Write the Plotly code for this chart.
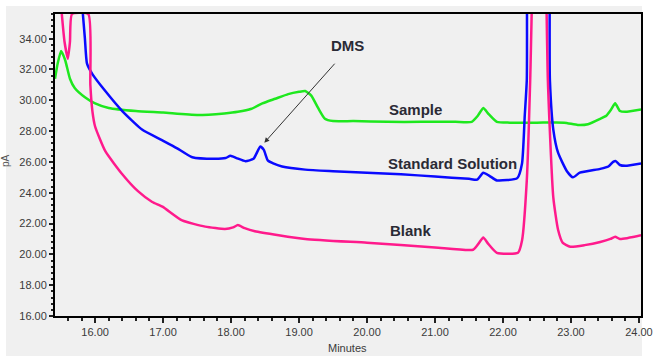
import plotly.graph_objects as go

# Sample (green)
sample_t = [15.41, 15.45, 15.50, 15.56, 15.63, 15.70, 15.85, 16.0, 16.2, 16.6, 17.0, 17.5, 17.9, 18.1,
            18.3, 18.46, 18.65, 18.84, 19.0, 19.09, 19.18, 19.28, 19.38, 19.5, 19.8, 20.3, 20.8, 21.3, 21.54,
            21.63, 21.71, 21.79, 21.91, 22.1, 22.5, 22.9, 23.1, 23.25, 23.43, 23.52, 23.59, 23.65, 23.72,
            23.8, 24.03]
sample_v = [31.4, 32.4, 33.2, 32.6, 31.4, 30.8, 30.2, 29.8, 29.5, 29.3, 29.2, 29.05, 29.15, 29.25,
            29.45, 29.8, 30.1, 30.4, 30.55, 30.6, 30.3, 29.5, 28.8, 28.65, 28.65, 28.6, 28.6, 28.6, 28.6,
            29.0, 29.5, 29.1, 28.6, 28.55, 28.55, 28.55, 28.4, 28.45, 28.8, 29.0, 29.4, 29.8, 29.3,
            29.25, 29.4]

# Standard Solution (blue)
std_t = [15.82, 15.85, 15.88, 15.96, 16.15, 16.40, 16.69, 16.99, 17.2, 17.43, 17.76, 17.92, 17.99, 18.08,
         18.21, 18.33, 18.43, 18.48, 18.54, 18.62, 18.75, 19.09, 19.5, 20.0, 20.5, 21.0, 21.5, 21.62,
         21.71, 21.8, 21.91, 22.21, 22.28, 22.32, 22.35, 22.45, 22.60, 22.69, 22.74, 22.81, 22.94, 23.03,
         23.13, 23.43, 23.55, 23.62, 23.66, 23.72, 23.8, 24.03]
std_v = [35.6, 34.0, 32.4, 31.7, 30.6, 29.3, 28.1, 27.4, 26.9, 26.3, 26.2, 26.25, 26.4, 26.25,
         26.05, 26.2, 27.0, 26.8, 26.1, 25.9, 25.7, 25.5, 25.4, 25.3, 25.2, 25.05, 24.9, 24.85,
         25.3, 25.1, 24.8, 24.95, 25.9, 29.0, 31.3, 60.0, 60.0, 31.3, 28.1, 26.6, 25.4, 25.0,
         25.3, 25.55, 25.7, 26.0, 26.05, 25.8, 25.75, 25.9]

# Blank (pink)
blank_t = [15.51, 15.55, 15.60, 15.63, 15.66, 15.90, 15.93, 15.96, 16.0, 16.15, 16.40, 16.63, 16.84, 16.99,
           17.28, 17.62, 17.91, 18.03, 18.1, 18.2, 18.35, 19.09, 20.0, 21.0, 21.56, 21.64, 21.71, 21.78,
           21.91, 22.22, 22.28, 22.35, 22.40, 22.55, 22.66, 22.74, 22.81, 22.88, 22.99, 23.2, 23.43, 23.58,
           23.65, 23.72, 24.03]
blank_v = [35.6, 33.8, 32.7, 33.8, 35.6, 35.6, 31.0, 29.3, 28.3, 26.7, 25.2, 24.1, 23.4, 23.1,
           22.2, 21.8, 21.65, 21.75, 21.9, 21.7, 21.5, 21.0, 20.75, 20.45, 20.3, 20.7, 21.1, 20.7,
           20.1, 20.1, 20.9, 24.8, 31.3, 60.0, 31.3, 23.7, 21.6, 20.75, 20.5, 20.6, 20.8, 21.0,
           21.15, 21.0, 21.25]

x_ticks = [16, 17, 18, 19, 20, 21, 22, 23, 24]
y_ticks = [16, 18, 20, 22, 24, 26, 28, 30, 32, 34]

fig = go.Figure()
for t, v, c, n in [(sample_t, sample_v, "#1ee81e", "Sample"),
                   (std_t, std_v, "#0a0aff", "Standard Solution"),
                   (blank_t, blank_v, "#ff1a8c", "Blank")]:
    fig.add_trace(go.Scatter(x=t, y=v, mode="lines", name=n,
                             line=dict(color=c, width=2.5, shape="spline", smoothing=0.5)))

L, R, T, B = 55, 17, 14, 40
W, H = 658, 356
pw, ph = W - L - R, H - T - B

fig.add_shape(type="rect", xref="paper", yref="paper",
              x0=(6 - L) / pw, x1=(642 - L) / pw, y0=-(H - T - ph) / ph - 0.01, y1=(H - 6 - B) / ph,
              fillcolor="#f0f0f0", line=dict(width=0), layer="below")

lab_font = dict(family="Liberation Sans, Arial", size=15, color="#2a2a35")
fig.add_annotation(x=18.47, y=27.15, ax=73, ay=-82, text="", showarrow=True, arrowhead=2,
                   arrowsize=1, arrowwidth=1, arrowcolor="#333333", standoff=2)
fig.add_annotation(x=19.71, y=33.55, text="<b>DMS</b>", showarrow=False, font=lab_font)
fig.add_annotation(x=20.71, y=29.38, text="<b>Sample</b>", showarrow=False, font=lab_font)
fig.add_annotation(x=21.25, y=25.93, text="<b>Standard Solution</b>", showarrow=False, font=lab_font)
fig.add_annotation(x=20.65, y=21.58, text="<b>Blank</b>", showarrow=False, font=lab_font)
fig.add_annotation(xref="paper", yref="paper", x=(5 - L) / pw, y=(316 - 160) / ph, text="pA",
                   xanchor="center", yanchor="middle",
                   textangle=-90, showarrow=False, font=dict(family="Liberation Sans, Arial", size=10, color="#555555"))
fig.add_annotation(xref="paper", yref="paper", x=(347 - L) / pw, y=-(348 - 316) / ph, text="Minutes",
                   xanchor="center", yanchor="middle", showarrow=False,
                   font=dict(family="Liberation Sans, Arial", size=11, color="#3a3a3a"))

tick_font = dict(family="Liberation Sans, Arial", size=11, color="#3a3a3a")
fig.update_xaxes(range=[15.41, 24.03], tickvals=x_ticks, ticktext=[f"{v:.2f}" for v in x_ticks],
                 ticks="outside", ticklen=5, tickwidth=1.5, tickcolor="#222",
                 minor=dict(dtick=0.2, ticks="outside", ticklen=3, tickwidth=1.5, tickcolor="#222"),
                 showline=True, linecolor="black", linewidth=2, mirror=True, showgrid=False, zeroline=False,
                 tickfont=tick_font, automargin=False)
fig.update_yaxes(range=[16, 35.6], tickvals=y_ticks, ticktext=[f"{v:.2f}" for v in y_ticks],
                 ticks="outside", ticklen=4, tickwidth=1.5, tickcolor="#222",
                 minor=dict(dtick=0.4, ticks="outside", ticklen=2, tickwidth=1.5, tickcolor="#222"),
                 showline=True, linecolor="black", linewidth=2, mirror=True, showgrid=False, zeroline=False,
                 tickfont=tick_font, automargin=False)
fig.update_layout(width=W, height=H, margin=dict(l=L, r=R, t=T, b=B, pad=0, autoexpand=False),
                  paper_bgcolor="white", plot_bgcolor="rgba(0,0,0,0)", showlegend=False)
fig.write_html("out.html")
